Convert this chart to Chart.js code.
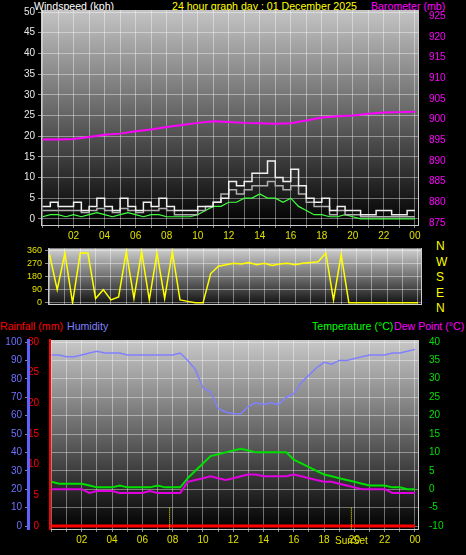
<!DOCTYPE html>
<html><head><meta charset="utf-8">
<script src="https://cdn.jsdelivr.net/npm/chart.js@4"></script>
<style>
body{margin:0;background:#000;width:466px;height:555px;overflow:hidden;position:relative;font-family:"Liberation Sans",Arial,sans-serif}
canvas{position:absolute;left:0}
.t{position:absolute;font-size:10.6px;white-space:nowrap;line-height:12px}
</style></head><body>
<div class="t" style="left:34px;top:0;color:#fff">Windspeed (kph)</div>
<div class="t" style="left:172px;top:0;color:#ffff00">24 hour graph day : 01 December 2025</div>
<div class="t" style="left:371px;top:0;color:#ff00ff">Barometer (mb)</div>
<div class="t" style="left:0;top:320px;color:#ff0000">Rainfall (mm)</div>
<div class="t" style="left:67px;top:320px;color:#8080ff">Humidity</div>
<div class="t" style="left:312px;top:320px;color:#00ff00">Temperature (°C)</div>
<div class="t" style="left:394px;top:320px;color:#ff00ff">Dew Point (°C)</div>
<div class="t" style="left:436px;top:239px;color:#ffff00;font-size:12px;line-height:15.5px">N<br>W<br>S<br>E<br>N</div>
<canvas id="c1" width="466" height="240" style="top:0"></canvas>
<canvas id="c2" width="466" height="73" style="top:240px"></canvas>
<canvas id="c3" width="466" height="235" style="top:320px"></canvas>
<script>
// half-hour samples, 00:00 .. 24:00
var windGust = [3,4,3,3,4,2,3,5,3,2,5,3,2,4,3,5,3,2,2,2,3,3,4,5,9,8,9,11,11,14,10,9,12,8,5,4,5,2,3,2,2,1,1,2,2,1,1,2,2];
var windAvg  = [2,2,2,2,2,1.5,2,2.5,2,1.5,2.5,2,1.5,2,2,2.5,2,1,1,1,2,3,4,6,7,6,7,8,8,9,8,7,8,6,4,3,3,1,2,1,1,0.5,0.5,0.5,0.5,0.5,0.5,0.5,0.5];
var windLow  = [0.5,1,1,0.5,1,0.5,1,1.5,1,0.5,1,1.5,1,0.5,1,1,0.5,0.5,0.5,0.5,1,2,3,3,4,4,5,5,6,5,5,4,5,3,2,1,1,0.5,0.5,1,0.5,0,0,0,0,0,0,0,0];
// hourly
var baro = [895.2,895.2,895.3,895.8,896.3,896.6,897.2,897.6,898.2,898.7,899.2,899.6,899.4,899.2,899.1,899.0,899.1,899.8,900.5,900.8,901.0,901.4,901.7,901.8,901.9];
var windDir = [330,90,340,0,340,340,30,90,20,40,350,30,350,20,340,30,350,20,10,0,0,200,250,260,270,265,275,260,270,255,265,270,260,270,275,280,340,20,330,0,0,0,0,0,0,0,0,0,0];
var humidity = [93,93,92,92,93,94,95,94,94,94,93,93,93,93,93,93,93,94,90,85,75,73,64,62,61,61,65,67,66,67,66,70,72,78,82,86,89,88,90,90,91,92,93,93,93,94,94,95,96];
var temperature = [2,1.5,1.5,1.5,1.5,1,0.5,0.5,0.5,1,0.5,0.5,0.5,0.5,1,0.5,0.5,0.5,3,5,7,9,9.5,10,10.5,11,10.5,10,10,10,10,10,8,7,6,5,4,3.5,3,2.5,2,1.5,1,1,1,0.5,0.5,0,0];
var dewPoint = [0,0,0,0,0,-1,-0.5,-0.5,-0.5,-1,-1,-1,-1,-0.5,-1,-1,-1,-1,2,2.5,3,3.5,3,2.5,3,3.5,4,4,3.5,3.5,3.5,3.5,4,3.5,3,2.5,2,2,1.5,1,0.5,0,0,0,0,-1,-1,-1,-1];
var rainfall = [0,0];
var rainHours = [0,24];
var markerHours = [7.8,19.8];

function half(arr){ return arr.map(function(v,i){ return {x:i*0.5,y:v}; }); }
function hourly(arr){ return arr.map(function(v,i){ return {x:i,y:v}; }); }
function fixedTicks(from,to,step){
  return function(s){ var t=[]; for(var v=from; v<=to+1e-9; v+=step) t.push({value:v}); s.ticks=t; };
}
var grid = {color:'rgba(255,255,255,0.4)',borderDash:[1,2],drawTicks:true,tickLength:3,tickColor:'#888'};
var f = {family:'Liberation Sans',size:10};
function bgPlugin(top,bottom){
  return {id:'bg',beforeDraw:function(c){
    var a=c.chartArea,g=c.ctx.createLinearGradient(0,a.top,0,a.bottom);
    g.addColorStop(0,top);g.addColorStop(1,bottom);
    c.ctx.fillStyle=g;c.ctx.fillRect(a.left,a.top,a.right-a.left,a.bottom-a.top);
  }};
}
function xAxis(showLabels,h){
  return {type:'linear',min:-0.1,max:24.2,grid:grid,border:{color:'#ccc'},
    afterFit:function(s){s.height=h;},
    afterBuildTicks:fixedTicks(0,24,1),
    ticks:{display:showLabels,autoSkip:false,color:'#e0e000',font:f,maxRotation:0,padding:2,
      callback:function(v){return (v>0&&v%2===0)?('0'+(v%24)).slice(-2):'';}}};
}
function line(data,color,w,stepped){
  return {data:data,borderColor:color,borderWidth:w,pointRadius:0,stepped:!!stepped,tension:0};
}
var common = {responsive:false,animation:false,plugins:{legend:{display:false},tooltip:{enabled:false}}};

new Chart(document.getElementById('c1'),{type:'line',
  data:{datasets:[
    Object.assign(line(half(windGust),'#f0f0f0',1.5,true),{yAxisID:'y'}),
    Object.assign(line(half(windAvg),'#b0b0b0',1.5,true),{yAxisID:'y'}),
    Object.assign(line(half(windLow),'#40ff40',1.2,false),{yAxisID:'y'}),
    Object.assign(line(hourly(baro),'#ff00ff',2,false),{yAxisID:'yb'})
  ]},
  options:Object.assign({},common,{layout:{padding:{top:10}},scales:{
    x:xAxis(true,15),
    y:{position:'left',min:-1.5,max:50.5,afterFit:function(s){s.width=41;},afterBuildTicks:fixedTicks(0,50,5),grid:grid,border:{color:'#ccc'},
      ticks:{autoSkip:false,color:'#e8e8e8',font:f}},
    yb:{position:'right',min:874.5,max:926.5,afterFit:function(s){s.width=48;},afterBuildTicks:fixedTicks(875,925,5),grid:{display:false},border:{color:'#ccc'},
      ticks:{autoSkip:false,color:'#ff00ff',font:f}}
  }}),
  plugins:[bgPlugin('#c4c4c4','#000')]
});

new Chart(document.getElementById('c2'),{type:'line',
  data:{datasets:[line(half(windDir),'#ffff00',1.5,false)]},
  options:Object.assign({},common,{layout:{padding:{top:4}},scales:{
    x:Object.assign(xAxis(false,0),{grid:Object.assign({},grid,{drawTicks:false})}),
    y:{position:'left',min:-12,max:372,afterFit:function(s){s.width=48;},afterBuildTicks:fixedTicks(0,360,90),grid:grid,border:{color:'#ccc'},
      ticks:{autoSkip:false,color:'#e0e000',font:{family:'Liberation Sans',size:9}}},
    y2:{position:'right',min:0,max:1,afterFit:function(s){s.width=45;},grid:{display:false},ticks:{display:false},border:{color:'#ccc'}}
  }}),
  plugins:[bgPlugin('#d0d0d0','#101010')]
});

var markers = {id:'markers',afterDatasetsDraw:function(c){
  var ctx=c.ctx,x=c.scales.x,a=c.chartArea,y=c.scales.yt;
  ctx.save();ctx.strokeStyle='#ffff00';ctx.setLineDash([1,1]);ctx.lineWidth=1;
  markerHours.forEach(function(h){var px=x.getPixelForValue(h);ctx.beginPath();ctx.moveTo(px,y.getPixelForValue(-5));ctx.lineTo(px,a.bottom);ctx.stroke();});
  ctx.setLineDash([]);ctx.fillStyle='#e0e000';ctx.font='10px Liberation Sans';ctx.textAlign='center';
  ctx.fillText('SunSet',x.getPixelForValue(markerHours[1]),a.bottom+15);
  ctx.restore();
}};
new Chart(document.getElementById('c3'),{type:'line',
  data:{datasets:[
    Object.assign(line(half(humidity),'#8080ff',1.5,false),{yAxisID:'yh'}),
    Object.assign(line(half(temperature),'#00e000',2,false),{yAxisID:'yt'}),
    Object.assign(line(half(dewPoint),'#e000e0',2,false),{yAxisID:'yt'}),
    Object.assign(line(rainHours.map(function(h,i){return {x:h,y:rainfall[i]};}),'#ff0000',3,false),{yAxisID:'yr'})
  ]},
  options:Object.assign({},common,{layout:{padding:{top:20}},scales:{
    x:xAxis(true,26),
    yr:{position:'left',min:-0.5,max:30.3,afterFit:function(s){s.width=22;},afterBuildTicks:fixedTicks(0,30,5),grid:{display:false},border:{color:'#ff0000',width:2},
      ticks:{autoSkip:false,color:'#ff0000',font:f}},
    yh:{position:'left',min:-1.6,max:101.1,afterFit:function(s){s.width=28;},afterBuildTicks:fixedTicks(0,100,10),grid:grid,border:{color:'#6060ff',width:3},
      ticks:{autoSkip:false,color:'#7070ff',font:f}},
    yt:{position:'right',min:-10.8,max:40.5,afterFit:function(s){s.width=48;},afterBuildTicks:fixedTicks(-10,40,5),grid:{display:false},border:{color:'#ccc'},
      ticks:{autoSkip:false,color:'#00e000',font:f}}
  }}),
  plugins:[bgPlugin('#c8c8c8','#000'),markers]
});
</script></body></html>
